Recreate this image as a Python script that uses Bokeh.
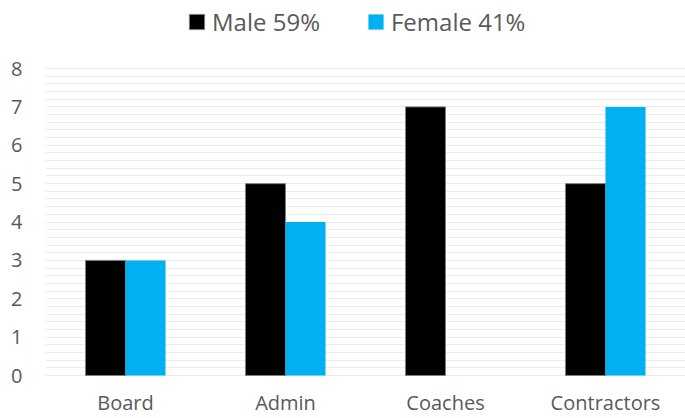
from bokeh.plotting import figure
from bokeh.models import FactorRange, Range1d, FixedTicker, Legend, LegendItem, ColumnDataSource
from bokeh.transform import dodge
from bokeh.embed import file_html
from bokeh.resources import INLINE

categories = ["Board", "Admin", "Coaches", "Contractors"]
male = [3, 5, 7, 5]
female = [3, 4, 0, 7]
series_labels = ["Male 59%", "Female 41%"]
y_ticks = [0, 1, 2, 3, 4, 5, 6, 7, 8]

src = ColumnDataSource(data=dict(cat=categories, male=male, female=female))

FONT = "Open Sans"
TXT = "#595959"

p = figure(width=685, height=418, x_range=FactorRange(*categories, range_padding=0),
           y_range=Range1d(-0.052, 9.772), output_backend="svg", toolbar_location=None,
           min_border_left=45, min_border_right=0, min_border_bottom=41, min_border_top=0)
p.outline_line_color = None

r1 = p.vbar(x=dodge("cat", -0.125, range=p.x_range), top="male", width=0.25, source=src,
            fill_color="black", line_color="#7f7f7f", line_width=1)
r2 = p.vbar(x=dodge("cat", 0.125, range=p.x_range), top="female", width=0.25, source=src,
            fill_color="#00B0F0", line_color=None)

p.yaxis.ticker = FixedTicker(ticks=y_ticks, minor_ticks=[i * 0.2 for i in range(41)])
p.ygrid.ticker = p.yaxis.ticker
p.ygrid.grid_line_color = "#EBEBEB"
p.ygrid.minor_grid_line_color = "#EBEBEB"
p.xgrid.grid_line_color = None

for ax in (p.xaxis[0], p.yaxis[0]):
    ax.axis_line_color = None
    ax.major_tick_line_color = None
    ax.minor_tick_line_color = None
    ax.major_tick_out = 0
    ax.major_tick_in = 0
    ax.minor_tick_out = 0
    ax.minor_tick_in = 0
    ax.major_label_text_font = FONT
    ax.major_label_text_color = TXT
    ax.major_label_text_font_size = "20px"
p.yaxis.major_label_standoff = 23
p.xaxis.major_label_standoff = 11

legend = Legend(items=[LegendItem(label=series_labels[0], renderers=[r1]),
                       LegendItem(label=series_labels[1], renderers=[r2])],
                orientation="horizontal", location=(142, 339),
                label_text_font=FONT, label_text_font_size="24px", label_text_color=TXT,
                glyph_width=19, glyph_height=19, spacing=46, label_standoff=6,
                border_line_color=None, background_fill_alpha=0, padding=0, margin=0)
p.add_layout(legend, "center")

open("out.html", "w").write(file_html(p, INLINE))
